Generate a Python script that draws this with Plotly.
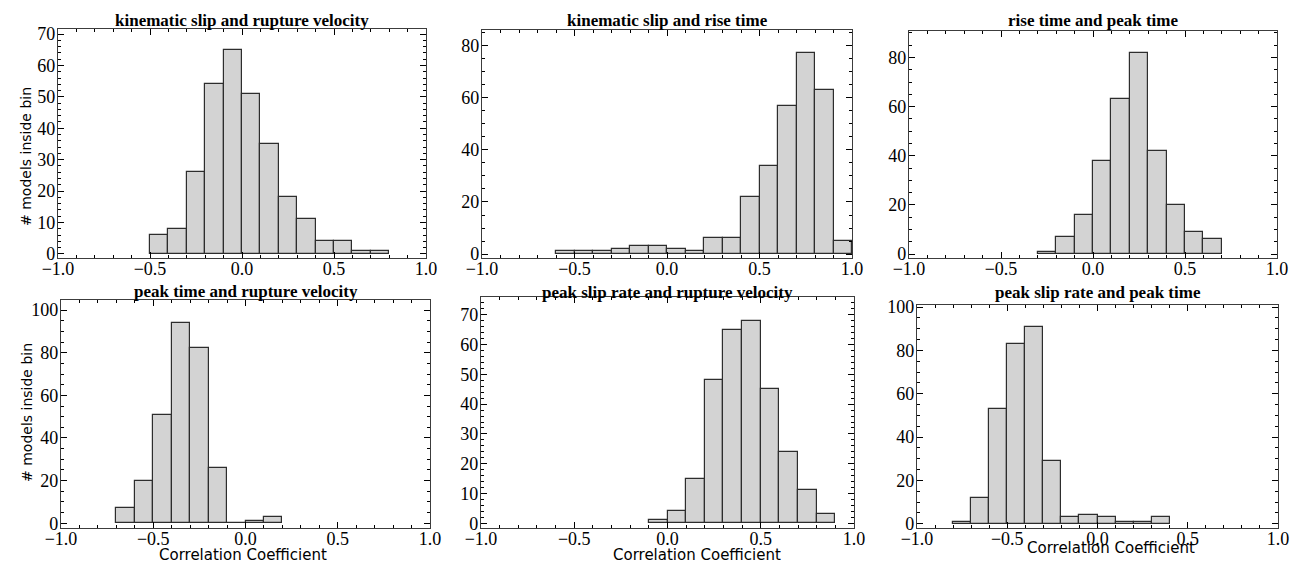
import plotly.graph_objects as go

W, H = 1291, 565

titles = [
    "kinematic slip and rupture velocity",
    "kinematic slip and rise time",
    "rise time and peak time",
    "peak time and rupture velocity",
    "peak slip rate and rupture velocity",
    "peak slip rate and peak time",
]

bin_width = 0.1
# left edge of first bin for each panel
bin_start = [-0.5, -0.6, -0.3, -0.7, -0.1, -0.8]

counts_1 = [6, 8, 26, 54, 65, 51, 35, 18, 11, 4, 4, 1, 1]
counts_2 = [1, 1, 1, 2, 3, 3, 2, 1, 6, 6, 22, 34, 57, 77, 63, 5]
counts_3 = [1, 7, 16, 38, 63, 82, 42, 20, 9, 6]
counts_4 = [7, 20, 51, 94, 82, 26, 0, 1, 3]
counts_5 = [1, 4, 15, 48, 65, 68, 45, 24, 11, 3]
counts_6 = [1, 12, 53, 83, 91, 29, 3, 4, 3, 1, 1, 3]
counts = [counts_1, counts_2, counts_3, counts_4, counts_5, counts_6]

x_ticks = [-1.0, -0.5, 0.0, 0.5, 1.0]
x_ticklabels = ["\u22121.0", "\u22120.5", "0.0", "0.5", "1.0"]

y_ranges = [[-1.3, 71.6], [-1.5, 86], [-1.6, 90.8], [-2.2, 104.7], [-1.6, 76], [-2.0, 101]]
y_dticks = [10, 20, 20, 20, 10, 20]
y_minor = [2, 5, 5, 5, 2, 5]

# plot-area pixel boxes (left, right, top, bottom)
boxes = [
    (58, 426, 29, 258),
    (482, 852, 30, 258),
    (909, 1277, 31, 258),
    (61, 430, 300, 528),
    (481, 854, 297, 528),
    (917, 1278, 305, 528),
]
title_y = [20, 20, 20, 291, 292, 292]

fig = go.Figure()
layout = dict(
    width=W, height=H,
    margin=dict(l=0, r=0, t=0, b=0, autoexpand=False),
    paper_bgcolor="white", plot_bgcolor="white",
    showlegend=False,
    bargap=0,
    font=dict(family="Liberation Serif", size=17, color="black"),
)
annotations = []
serif = "Liberation Serif, Times New Roman, serif"

for i in range(6):
    l, r, t, b = boxes[i]
    xa = "xaxis" if i == 0 else f"xaxis{i+1}"
    ya = "yaxis" if i == 0 else f"yaxis{i+1}"
    xr = "x" if i == 0 else f"x{i+1}"
    yr = "y" if i == 0 else f"y{i+1}"
    lefts = [bin_start[i] + bin_width * k for k in range(len(counts[i]))]
    fig.add_trace(go.Bar(
        x=lefts, y=counts[i], width=bin_width, offset=0,
        marker=dict(color="rgb(211,211,211)", line=dict(color="rgb(45,45,45)", width=1.2)),
        xaxis=xr, yaxis=yr, hoverinfo="x+y",
    ))
    layout[xa] = dict(
        domain=[l / W, r / W], anchor=yr, range=[-1.0, 1.0], automargin=False,
        tickvals=x_ticks, ticktext=x_ticklabels,
        tickfont=dict(family=serif, size=18, color="black"),
        ticks="inside", ticklen=6, tickwidth=1, tickcolor="black",
        minor=dict(ticks="inside", dtick=0.1, ticklen=3, tickcolor="black", tickwidth=1, showgrid=False),
        showline=True, linecolor="rgb(60,60,60)", linewidth=1.3, mirror="ticks",
        showgrid=False, zeroline=False, fixedrange=True, ticklabelstandoff=-6,
    )
    layout[ya] = dict(
        domain=[1 - b / H, 1 - t / H], anchor=xr, range=y_ranges[i], automargin=False,
        tick0=0, dtick=y_dticks[i],
        tickfont=dict(family=serif, size=18, color="black"),
        ticks="inside", ticklen=6, tickwidth=1, tickcolor="black",
        minor=dict(ticks="inside", dtick=y_minor[i], ticklen=3, tickcolor="black", tickwidth=1, showgrid=False),
        showline=True, linecolor="rgb(60,60,60)", linewidth=1.3, mirror="ticks",
        showgrid=False, zeroline=False, fixedrange=True, ticklabelstandoff=-2,
    )
    annotations.append(dict(
        text=f"<b>{titles[i]}</b>", x=(l + r) / 2 / W, y=1 - title_y[i] / H,
        xref="paper", yref="paper", xanchor="center", yanchor="middle", showarrow=False,
        font=dict(family=serif, size=17, color="black"),
    ))

for (xp, yp) in [(26, 157), (27, 413)]:
    annotations.append(dict(
        text="# models inside bin", x=xp / W, y=1 - yp / H, xref="paper", yref="paper",
        xanchor="center", yanchor="middle", textangle=-90, showarrow=False,
        font=dict(family="DejaVu Sans", size=14, color="black"),
    ))
for (xp, yp) in [(243, 555), (697, 555), (1111, 548)]:
    annotations.append(dict(
        text="Correlation Coefficient", x=xp / W, y=1 - yp / H, xref="paper", yref="paper",
        xanchor="center", yanchor="middle", showarrow=False,
        font=dict(family="DejaVu Sans", size=15, color="black"),
    ))

layout["annotations"] = annotations
fig.update_layout(**layout)
fig.write_html(
    "out.html",
    config={"displayModeBar": False},
    post_script="document.body.style.margin='0';document.body.style.overflow='hidden';",
)
